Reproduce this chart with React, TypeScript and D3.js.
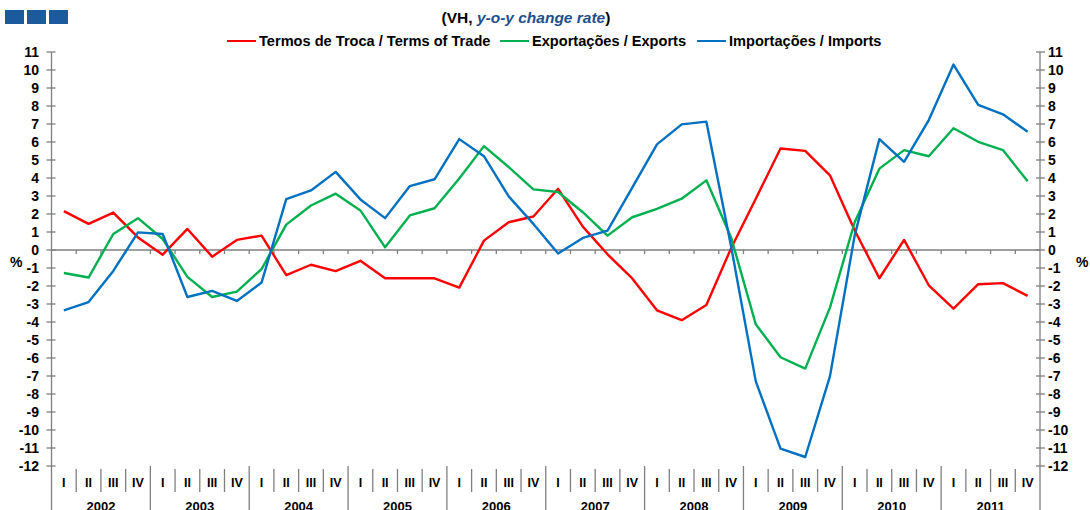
import React from "react";
import * as d3 from "d3";

const years = ["2002", "2003", "2004", "2005", "2006", "2007", "2008", "2009", "2010", "2011"];
const quarters = ["I", "II", "III", "IV"];
const yTicks = d3.range(-12, 12);

// y-o-y change rate, quarterly 2002 I .. 2011 IV
const termsOfTrade = [
  2.16, 1.45, 2.08, 0.7, -0.26, 1.17, -0.37, 0.56, 0.8, -1.4, -0.82, -1.17, -0.6, -1.57, -1.57, -1.57,
  -2.09, 0.52, 1.54, 1.86, 3.4, 1.3, -0.24, -1.58, -3.35, -3.9, -3.06, 0.1, 2.85, 5.64, 5.51, 4.15,
  1.1, -1.57, 0.56, -1.96, -3.26, -1.9, -1.84, -2.55,
];
const exportsData = [
  -1.28, -1.53, 0.89, 1.77, 0.61, -1.49, -2.61, -2.31, -1.06, 1.41, 2.47, 3.13, 2.2, 0.15, 1.92, 2.32,
  3.97, 5.77, 4.61, 3.37, 3.22, 2.1, 0.8, 1.82, 2.29, 2.85, 3.87, 0.7, -4.13, -5.96, -6.59, -3.2,
  1.54, 4.52, 5.55, 5.21, 6.76, 6.01, 5.55, 3.82,
];
const importsData = [
  -3.35, -2.89, -1.16, 0.98, 0.89, -2.61, -2.27, -2.83, -1.81, 2.83, 3.31, 4.34, 2.81, 1.77, 3.55, 3.93,
  6.16, 5.21, 2.98, 1.45, -0.19, 0.67, 1.08, 3.46, 5.87, 6.98, 7.13, 0.2, -7.3, -11.03, -11.5, -7.02,
  0.8, 6.16, 4.9, 7.22, 10.3, 8.06, 7.54, 6.57,
];

const seriesNames = ["Termos de Troca / Terms of Trade", "Exportações / Exports", "Importações / Imports"];
const seriesColors = ["#ff0000", "#00b050", "#0070c0"];
const seriesData = [termsOfTrade, exportsData, importsData];

const W = 1090;
const H = 510;
const font = "'Liberation Sans', Arial, sans-serif";
const axisColor = "#7f7f7f";

export default function App() {
  const nQ = years.length * quarters.length;
  const x = d3.scaleLinear().domain([0, nQ]).range([51.5, 1040]);
  const y = d3.scaleLinear().domain([-12, 11]).range([466, 52]);

  const line = d3
    .line<number>()
    .x((_, i) => x(i + 0.5))
    .y((d) => y(d));

  const legendX = [227, 500, 697];

  return (
    <svg
      width={W}
      height={H}
      style={{ position: "absolute", left: 0, top: 0, background: "#fff" }}
      fontFamily={font}
      fontWeight="bold"
    >
      {/* logo squares */}
      {[0, 1, 2].map((k) => (
        <rect key={k} x={5 + k * 22} y={10} width={19} height={14} fill="#1b5a9c" />
      ))}

      <text x={526} y={23} textAnchor="middle" fontSize={15.5} fill="#000">
        (VH,{" "}
        <tspan fontStyle="italic" fill="#1f4e8c">
          y-o-y change rate
        </tspan>
        )
      </text>

      {/* legend */}
      {seriesNames.map((name, k) => (
        <g key={name} transform={`translate(${legendX[k]},41)`}>
          <line x1={0} x2={29} y1={0} y2={0} stroke={seriesColors[k]} strokeWidth={2} />
          <text x={32} y={5} fontSize={14.6} fill="#000">
            {name}
          </text>
        </g>
      ))}

      {/* y axes */}
      <line x1={x(0)} x2={x(0)} y1={y(11)} y2={H} stroke={axisColor} strokeWidth={1.3} />
      <line x1={x(nQ)} x2={x(nQ)} y1={y(11)} y2={H} stroke={axisColor} strokeWidth={1.3} />
      {yTicks.map((t) => (
        <g key={t}>
          <line x1={x(0) - 5} x2={x(0) + 4} y1={y(t)} y2={y(t)} stroke={axisColor} strokeWidth={1.3} />
          <line x1={x(nQ) - 4} x2={x(nQ) + 5} y1={y(t)} y2={y(t)} stroke={axisColor} strokeWidth={1.3} />
          <text x={39} y={y(t) + 5} textAnchor="end" fontSize={14} fill="#000">
            {t}
          </text>
          <text x={1048} y={y(t) + 5} textAnchor="start" fontSize={14} fill="#000">
            {t}
          </text>
        </g>
      ))}
      <text x={10} y={267} fontSize={14} fill="#000">%</text>
      <text x={1076} y={267} fontSize={14} fill="#000">%</text>

      {/* zero line with quarter ticks */}
      <line x1={x(0)} x2={x(nQ)} y1={y(0)} y2={y(0)} stroke={axisColor} strokeWidth={1.3} />
      {d3.range(1, nQ).map((i) => (
        <line key={i} x1={x(i)} x2={x(i)} y1={y(0)} y2={y(0) + 4} stroke={axisColor} strokeWidth={1.3} />
      ))}

      {/* category band */}
      {d3.range(1, nQ).map((i) => (
        <line
          key={i}
          x1={x(i)}
          x2={x(i)}
          y1={i % 4 === 0 ? 466 : 469}
          y2={i % 4 === 0 ? H : 492}
          stroke={axisColor}
          strokeWidth={1.3}
        />
      ))}
      {d3.range(nQ).map((i) => (
        <text key={i} x={x(i + 0.5)} y={487} textAnchor="middle" fontSize={12.5} fill="#000">
          {quarters[i % 4]}
        </text>
      ))}
      {years.map((yr, k) => (
        <text key={yr} x={x(k * 4 + 2)} y={511} textAnchor="middle" fontSize={13} fill="#000">
          {yr}
        </text>
      ))}

      {/* series */}
      {seriesData.map((d, k) => (
        <path key={k} d={line(d) ?? ""} fill="none" stroke={seriesColors[k]} strokeWidth={2.4} strokeLinejoin="round" />
      ))}
    </svg>
  );
}
